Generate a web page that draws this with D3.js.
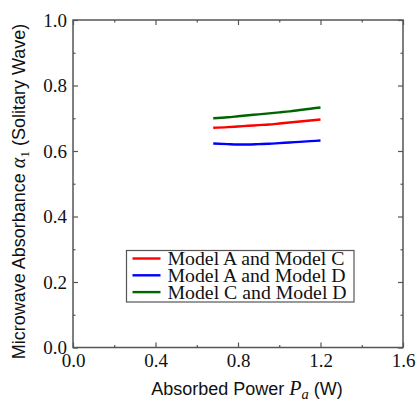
<!DOCTYPE html>
<html>
<head>
<meta charset="utf-8">
<script src="https://cdn.jsdelivr.net/npm/d3@7"></script>
<style>
  html, body { margin: 0; padding: 0; background: #fff; }
  svg { display: block; }
</style>
</head>
<body>
<svg id="chart" width="420" height="401"></svg>
<script>
// Absorbed power (W) at which each model pair was evaluated
const power = [0.68, 0.75, 0.80, 0.85, 0.90, 0.95, 1.00, 1.05, 1.10, 1.15, 1.20];

// Microwave absorbance alpha_1 for each model pair
const modelAC = [0.671, 0.673, 0.675, 0.677, 0.679, 0.681, 0.684, 0.687, 0.690, 0.693, 0.696];
const modelAD = [0.623, 0.621, 0.620, 0.620, 0.621, 0.622, 0.624, 0.626, 0.628, 0.630, 0.632];
const modelCD = [0.700, 0.703, 0.706, 0.709, 0.712, 0.715, 0.718, 0.721, 0.725, 0.729, 0.733];

const seriesNames = ["Model A and Model C", "Model A and Model D", "Model C and Model D"];
const seriesColors = ["#ff0000", "#0000ff", "#006400"];
const seriesValues = [modelAC, modelAD, modelCD];

const xMajorTicks = [0.0, 0.4, 0.8, 1.2, 1.6];
const xMinorTicks = [0.2, 0.6, 1.0, 1.4];
const yMajorTicks = [0.0, 0.2, 0.4, 0.6, 0.8, 1.0];
const yMinorTicks = [0.1, 0.3, 0.5, 0.7, 0.9];

const svg = d3.select("#chart");
const plotLeft = 73, plotRight = 403, plotTop = 20, plotBottom = 347.5;

const x = d3.scaleLinear().domain([0, 1.6]).range([plotLeft, plotRight]);
const y = d3.scaleLinear().domain([0, 1.0]).range([plotBottom, plotTop]);

const axisColor = "#555";
const serif = "'Liberation Serif', 'Times New Roman', serif";
const sans = "'Liberation Sans', Arial, sans-serif";

// Draw an axis with inward ticks; labels only where requested
function drawAxis(gen, transform, ticks, size, labels) {
  const g = svg.append("g").attr("transform", transform)
    .call(gen.tickValues(ticks).tickSizeInner(-size).tickSizeOuter(0)
      .tickPadding(labels ? 6 : 0)
      .tickFormat(labels ? d3.format(".1f") : () => ""));
  g.select(".domain").remove();
  g.selectAll(".tick line").attr("stroke", axisColor).attr("stroke-width", 1.2);
  g.selectAll(".tick text")
    .attr("font-family", serif).attr("font-size", 19).attr("fill", "#111");
  return g;
}

// bottom & left with labels, top & right mirrored
const gxb = drawAxis(d3.axisBottom(x), `translate(0,${plotBottom})`, xMajorTicks, 5, true);
gxb.selectAll(".tick text").attr("y", 19.5).attr("dy", 0);
drawAxis(d3.axisBottom(x), `translate(0,${plotBottom})`, xMinorTicks, 2.5, false);
drawAxis(d3.axisTop(x), `translate(0,${plotTop})`, xMajorTicks, 5, false);
drawAxis(d3.axisTop(x), `translate(0,${plotTop})`, xMinorTicks, 2.5, false);

drawAxis(d3.axisLeft(y), `translate(${plotLeft},0)`, yMajorTicks, 5, true);
drawAxis(d3.axisLeft(y), `translate(${plotLeft},0)`, yMinorTicks, 2.5, false);
drawAxis(d3.axisRight(y), `translate(${plotRight},0)`, yMajorTicks, 5, false);
drawAxis(d3.axisRight(y), `translate(${plotRight},0)`, yMinorTicks, 2.5, false);

// plot frame
svg.append("rect")
  .attr("x", plotLeft).attr("y", plotTop)
  .attr("width", plotRight - plotLeft).attr("height", plotBottom - plotTop)
  .attr("fill", "none").attr("stroke", axisColor).attr("stroke-width", 1.5);

// data curves
const line = d3.line()
  .x((d, i) => x(power[i]))
  .y(d => y(d))
  .curve(d3.curveMonotoneX);

seriesValues.forEach((vals, k) => {
  svg.append("path")
    .datum(vals)
    .attr("d", line)
    .attr("fill", "none")
    .attr("stroke", seriesColors[k])
    .attr("stroke-width", 2.4);
});

// legend
const legend = svg.append("g");
legend.append("rect")
  .attr("x", 126.5).attr("y", 250.5).attr("width", 227.5).attr("height", 51.5)
  .attr("fill", "#fff").attr("stroke", axisColor).attr("stroke-width", 1.2);
seriesNames.forEach((name, k) => {
  const ry = 258.5 + k * 16.8;
  legend.append("line")
    .attr("x1", 132.5).attr("x2", 160.5).attr("y1", ry).attr("y2", ry)
    .attr("stroke", seriesColors[k]).attr("stroke-width", 2.4);
  legend.append("text")
    .attr("x", 167.5).attr("y", ry).attr("dy", "0.33em")
    .attr("font-family", serif).attr("font-size", 19.8).attr("fill", "#111")
    .text(name);
});

// x axis title
const xt = svg.append("text")
  .attr("x", 247).attr("y", 395)
  .attr("text-anchor", "middle")
  .attr("font-family", sans).attr("font-size", 18).attr("fill", "#111");
xt.append("tspan").text("Absorbed Power ");
xt.append("tspan").attr("font-family", serif).attr("font-style", "italic").attr("font-size", 20).text("P");
xt.append("tspan").attr("font-family", serif).attr("font-style", "italic").attr("font-size", 14.5)
  .attr("dy", 4).text("a");
xt.append("tspan").attr("dy", -4).text(" (W)");

// y axis title
const yt = svg.append("text")
  .attr("transform", `translate(25,191.5) rotate(-90)`)
  .attr("text-anchor", "middle")
  .attr("font-family", sans).attr("font-size", 18).attr("fill", "#111");
yt.append("tspan").text("Microwave Absorbance ");
yt.append("tspan").attr("font-family", serif).attr("font-style", "italic").attr("font-size", 20).text("α");
yt.append("tspan").attr("font-family", serif).attr("font-size", 13.5).attr("dy", 4).text("1");
yt.append("tspan").attr("dy", -4).text(" (Solitary Wave)");
</script>
</body>
</html>
